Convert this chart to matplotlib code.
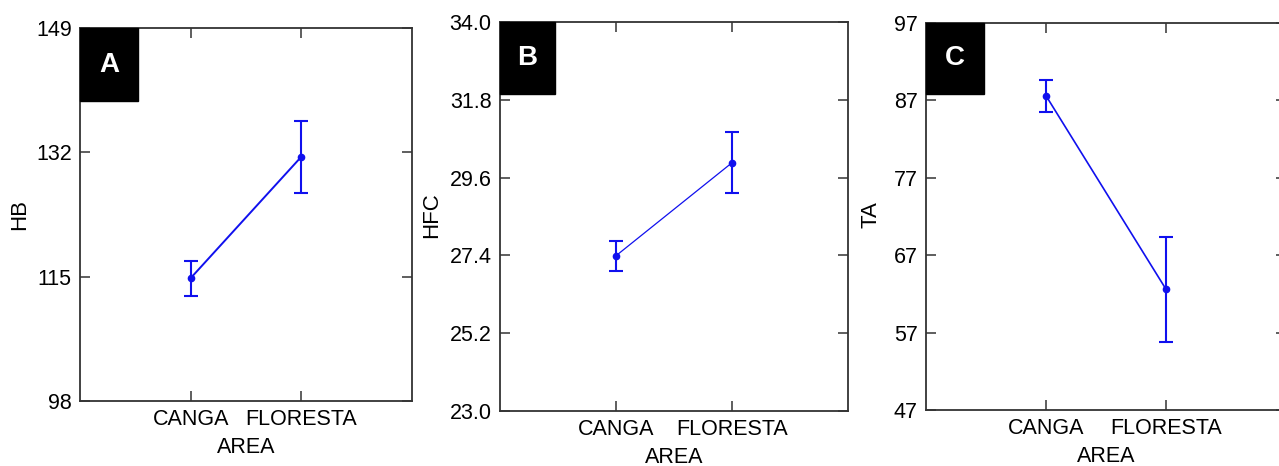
import matplotlib
matplotlib.use("Agg")
import matplotlib.pyplot as plt
from matplotlib.patches import Rectangle

plt.rcParams['font.family'] = ['Liberation Sans Narrow', 'Liberation Sans', 'DejaVu Sans']

# data
areas = ["CANGA", "FLORESTA"]
hb_mean = [114.8, 131.4]
hb_err = [2.4, 4.9]
hfc_mean = [27.39, 30.02]
hfc_err = [0.42, 0.86]
ta_mean = [87.6, 62.6]
ta_err = [2.1, 6.8]

hb_ticks = [98, 115, 132, 149]
hfc_ticks = [23.0, 25.2, 27.4, 29.6, 31.8, 34.0]
ta_ticks = [47, 57, 67, 77, 87, 97]

W, H = 1279, 466
fig = plt.figure(figsize=(W / 100, H / 100), dpi=100)


def px_axes(left, right, top, bottom):
    return fig.add_axes([left / W, (H - bottom) / H, (right - left) / W, (bottom - top) / H])


panels = [
    dict(box=(80, 412, 28, 401), mean=hb_mean, err=hb_err, ticks=hb_ticks, fmt="{:.0f}",
         ylabel="HB", letter="A", lw=1.4, lbl=(0.175, 0.196), ylabx=20),
    dict(box=(500, 848, 22, 411), mean=hfc_mean, err=hfc_err, ticks=hfc_ticks, fmt="{:.1f}",
         ylabel="HFC", letter="B", lw=0.9, lbl=(0.158, 0.185), ylabx=432),
    dict(box=(926, 1286, 23, 410), mean=ta_mean, err=ta_err, ticks=ta_ticks, fmt="{:.0f}",
         ylabel="TA", letter="C", lw=1.2, lbl=(0.161, 0.183), ylabx=871),
]

for p in panels:
    ax = px_axes(*p["box"])
    x = [1, 2]
    ax.errorbar(x, p["mean"], yerr=p["err"], color="#1010ee", lw=p["lw"],
                elinewidth=1.5, capsize=5, capthick=1.5,
                marker="o", markersize=4.5)
    ax.set_xlim(0, 3)
    ax.set_ylim(p["ticks"][0], p["ticks"][-1])
    ax.set_xticks(x)
    ax.set_xticklabels(areas, fontsize=15.5)
    ax.set_yticks(p["ticks"])
    ax.set_yticklabels([p["fmt"].format(t) for t in p["ticks"]], fontsize=15.5)
    ax.tick_params(direction="in", length=7, width=1.1, color="#333333",
                   top=True, right=True, pad=6)
    for s in ax.spines.values():
        s.set_color("#333333")
        s.set_linewidth(1.3)
    ax.set_xlabel("AREA", fontsize=15.5, labelpad=5)
    fig.text(p["ylabx"] / W, 1 - 215 / H, p["ylabel"], rotation=90, fontsize=16,
             ha="center", va="center", family="Liberation Sans")
    bw, bh = p["lbl"]
    ax.add_patch(Rectangle((0, 1 - bh), bw, bh, transform=ax.transAxes,
                           color="black", zorder=5, clip_on=False))
    ax.text(bw / 2, 1 - bh / 2, p["letter"], transform=ax.transAxes, color="white",
            fontsize=20, fontweight="bold", ha="center", va="center", zorder=6,
            family="Liberation Sans")

fig.savefig("out.png", dpi=100)
